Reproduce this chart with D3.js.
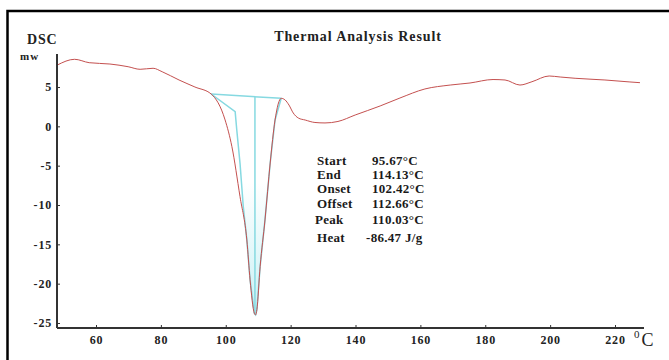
<!DOCTYPE html>
<html lang="en">
<head>
    <meta charset="UTF-8">
    <script src="https://d3js.org/d3.v7.min.js"></script>
    <title>Thermal Analysis Result</title>
    <style>
        body { margin: 0; background: white; }
        svg { display: block; font-family: "Liberation Serif", "DejaVu Serif", serif; }
        .tick text { font-family: "Liberation Serif", serif; font-weight: bold; font-size: 12px; letter-spacing: 0.8px; fill: #222; }
        .info { font-size: 13px; font-weight: bold; fill: #1a1a1a; letter-spacing: 0.3px; }
    </style>
</head>
<body>
    <div id="chart"></div>
    <script>
        // DSC curve: temperature (°C) and heat flow (mW)
        const temps = [48.1, 53.4, 57.9, 64.3, 69.9, 73.6, 77.6, 80.4, 85.6, 90.5, 95.5,
            99.8, 101.9, 104.4, 106.5, 107.5, 108.8, 109.2, 109.6, 110.6, 112.1, 113.7,
            115.2, 117.1, 118.3, 119.5, 120.8, 122.4, 124.5, 127.5, 130.6, 134.6, 139.9, 147.6,
            153.7, 161.4, 169.2, 175.3, 182.4, 186.1, 190.7, 194.4, 199.7, 203.1, 207.7,
            216.9, 224.6, 227.7];
        const dsc = [7.80, 8.52, 8.09, 7.92, 7.58, 7.25, 7.38, 6.94, 5.89, 5.00, 4.11,
            0.81, -2.59, -8.94, -14.44, -19.52, -23.75, -23.97, -23.30, -17.83, -11.90, -4.66,
            0.81, 3.56, 3.35, 2.70, 1.70, 1.05, 0.80, 0.49, 0.43, 0.62, 1.44, 2.59,
            3.60, 4.75, 5.25, 5.51, 5.95, 5.89, 5.25, 5.67, 6.40, 6.27, 6.11,
            5.89, 5.64, 5.55];

        // peak construction lines (cyan)
        const baseT = [95.5, 117.1];
        const baseY = [4.11, 3.56];
        const onsetT = [95.5, 102.9, 103.4, 104.4, 105.4, 106.5, 107.5, 108.8, 109.2];
        const onsetY = [4.11, 1.86, -0.46, -4.70, -10.21, -14.44, -19.52, -23.75, -23.97];
        const peakT = 109.0;

        const xTicks = [60, 80, 100, 120, 140, 160, 180, 200, 220];
        const yTicks = [5, 0, -5, -10, -15, -20, -25];

        const infoLabels = ["Start", "End", "Onset", "Offset", "Peak", "Heat"];
        const infoValues = ["95.67°C", "114.13°C", "102.42°C", "112.66°C", "110.03°C", "-86.47 J/g"];

        const width = 669, height = 360;
        const svg = d3.select("#chart").append("svg")
            .attr("width", width)
            .attr("height", height);

        // frame
        svg.append("path")
            .attr("d", "M7.5,360V11H669")
            .attr("fill", "none")
            .attr("stroke", "#000")
            .attr("stroke-width", 2.5);

        const x = d3.scaleLinear().domain([60, 220]).range([96, 615]);
        const y = d3.scaleLinear().domain([-25, 5]).range([323, 87]);
        const x0 = x.invert(57), x1 = x.invert(644);
        const yTop = y.invert(54), yBot = y.invert(328);

        // cyan area under the peak
        const curvePts = temps.map((t, i) => [t, dsc[i]]);
        const rightBranch = curvePts.filter(p => p[0] > 109.2 && p[0] <= 117.1);
        const poly = onsetT.map((t, i) => [t, onsetY[i]]).concat(rightBranch);
        const grad = svg.append("defs").append("linearGradient")
            .attr("id", "peakfill").attr("x1", 0).attr("y1", 0).attr("x2", 0).attr("y2", 1);
        grad.append("stop").attr("offset", "0.4").attr("stop-color", "#ffffff");
        grad.append("stop").attr("offset", "1").attr("stop-color", "#c9f1f5");
        svg.append("path")
            .attr("d", d3.line().x(d => x(d[0])).y(d => y(d[1]))(poly))
            .attr("fill", "url(#peakfill)")
            .attr("stroke", "#86d9e1")
            .attr("stroke-width", 1.5);

        svg.append("line")
            .attr("x1", x(baseT[0])).attr("y1", y(baseY[0]))
            .attr("x2", x(baseT[1])).attr("y2", y(baseY[1]))
            .attr("stroke", "#86d9e1").attr("stroke-width", 1.5);

        const baseAtPeak = baseY[0] + (baseY[1] - baseY[0]) * (peakT - baseT[0]) / (baseT[1] - baseT[0]);
        svg.append("line")
            .attr("x1", x(peakT)).attr("y1", y(baseAtPeak))
            .attr("x2", x(peakT)).attr("y2", y(-23.8))
            .attr("stroke", "#86d9e1").attr("stroke-width", 1.5);

        // DSC curve
        svg.append("path")
            .datum(curvePts)
            .attr("d", d3.line().x(d => x(d[0])).y(d => y(d[1])).curve(d3.curveMonotoneX))
            .attr("fill", "none")
            .attr("stroke", "#c4504f")
            .attr("stroke-width", 1);

        // axes
        const xAxis = svg.append("g")
            .attr("class", "x axis")
            .attr("transform", "translate(0,328)")
            .call(d3.axisBottom(x).tickValues(xTicks).tickSize(-3).tickPadding(7).tickFormat(d => String(d)));
        xAxis.select(".domain").attr("d", `M${x(x0)},0H${x(x1)}`);

        const yAxis = svg.append("g")
            .attr("class", "y axis")
            .attr("transform", "translate(57,0)")
            .call(d3.axisLeft(y).tickValues(yTicks).tickSize(-3).tickPadding(5).tickFormat(d => String(d)));
        yAxis.select(".domain").attr("d", `M0,${y(yTop)}V${y(yBot)}`);

        svg.selectAll(".axis").attr("font-family", null).attr("font-size", null);
        svg.selectAll(".domain").attr("stroke", "#333").attr("stroke-width", 2);
        svg.selectAll(".tick line").attr("stroke", "#333");

        // titles
        svg.append("text")
            .attr("x", 358).attr("y", 41)
            .attr("text-anchor", "middle")
            .attr("font-weight", "bold").attr("font-size", 14).attr("letter-spacing", 0.9).attr("fill", "#222")
            .text("Thermal Analysis Result");
        svg.append("text")
            .attr("x", 27).attr("y", 44)
            .attr("font-weight", "bold").attr("font-size", 14).attr("letter-spacing", 0.8).attr("fill", "#222")
            .text("DSC");
        svg.append("text")
            .attr("x", 20).attr("y", 60)
            .attr("font-weight", "bold").attr("font-size", 11).attr("letter-spacing", 1).attr("fill", "#222")
            .text("mw");

        const unit = svg.append("text")
            .attr("x", 634).attr("y", 346).attr("fill", "#222");
        unit.append("tspan").attr("font-size", 11).attr("dy", -8).text("0");
        unit.append("tspan").attr("font-size", 18).attr("dy", 8).attr("dx", 2).text("C");

        // result table
        const info = svg.append("g").attr("class", "info");
        infoLabels.forEach((lab, i) => {
            const yy = [165, 179, 193, 208, 224, 242][i];
            info.append("text").attr("x", i === 4 ? 315 : 317).attr("y", yy).text(lab);
            info.append("text").attr("x", i === 5 ? 366 : 372).attr("y", yy).text(infoValues[i]);
        });
    </script>
</body>
</html>
